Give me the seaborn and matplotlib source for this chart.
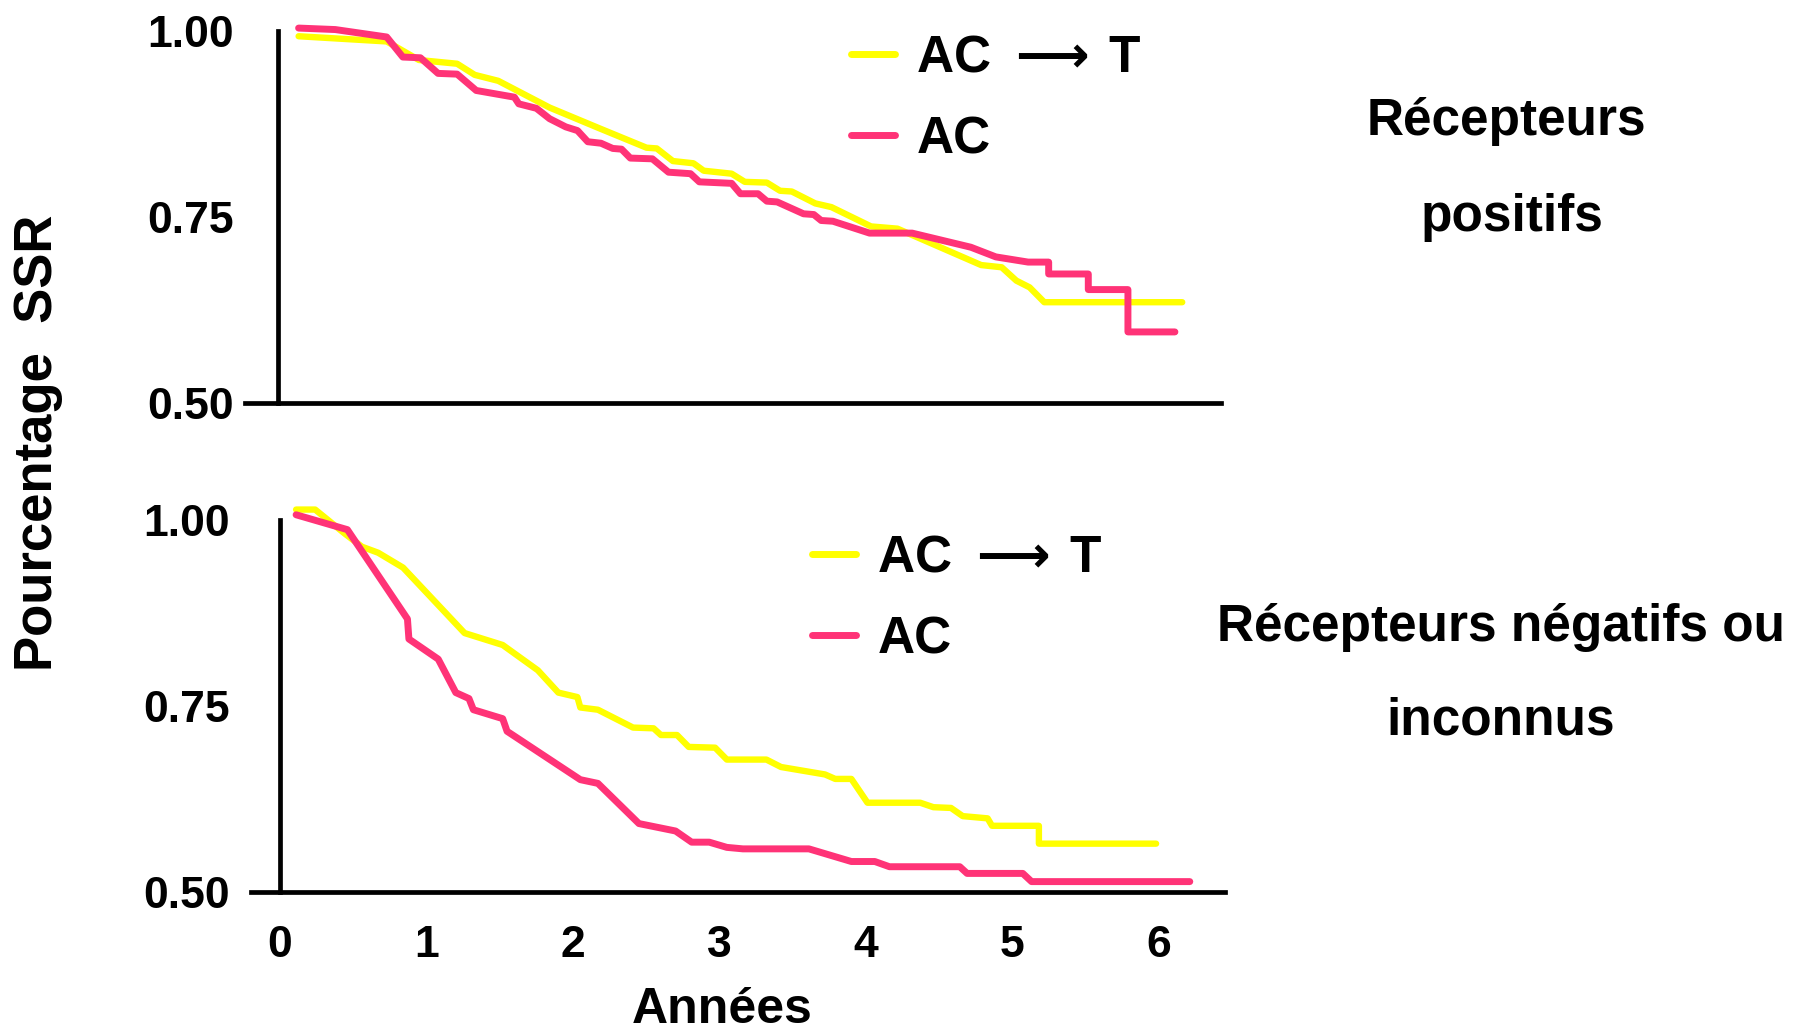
import numpy as np
import pandas as pd
import matplotlib.pyplot as plt
import seaborn as sns

# Récepteurs positifs : courbes
annees_pos_act = [0.14, 0.74, 0.96, 1.22, 1.34, 1.50, 1.85, 2.19, 2.51, 2.58, 2.69, 2.83, 2.90, 3.09,
                  3.18, 3.33, 3.42, 3.50, 3.66, 3.77, 4.04, 4.22, 4.79, 4.93, 5.03, 5.12, 5.22, 6.16]
ssr_pos_act = [0.993, 0.986, 0.961, 0.956, 0.941, 0.933, 0.897, 0.869, 0.843, 0.842, 0.825, 0.822,
               0.812, 0.808, 0.797, 0.796, 0.785, 0.784, 0.768, 0.763, 0.737, 0.734, 0.685, 0.682,
               0.664, 0.655, 0.635, 0.635]
annees_pos_ac = [0.14, 0.39, 0.74, 0.85, 0.97, 1.09, 1.22, 1.35, 1.61, 1.64, 1.76, 1.85, 1.96, 2.04,
                 2.11, 2.20, 2.28, 2.34, 2.40, 2.55, 2.66, 2.81, 2.87, 3.09, 3.15, 3.27, 3.33, 3.40,
                 3.58, 3.65, 3.70, 3.78, 4.03, 4.32, 4.72, 4.89, 5.11, 5.25, 5.25, 5.52, 5.52, 5.79,
                 5.79, 6.11]
ssr_pos_ac = [1.004, 1.002, 0.992, 0.965, 0.964, 0.943, 0.942, 0.920, 0.911, 0.902, 0.896, 0.882,
              0.871, 0.866, 0.851, 0.849, 0.842, 0.841, 0.829, 0.828, 0.810, 0.808, 0.797, 0.795,
              0.781, 0.781, 0.771, 0.770, 0.754, 0.753, 0.745, 0.744, 0.728, 0.728, 0.709, 0.696,
              0.689, 0.689, 0.673, 0.673, 0.652, 0.652, 0.595, 0.595]

# Récepteurs négatifs ou inconnus
annees_neg_act = [0.11, 0.24, 0.44, 0.56, 0.67, 0.84, 1.26, 1.52, 1.76, 1.90, 2.03, 2.05, 2.17, 2.41,
                  2.55, 2.60, 2.71, 2.79, 2.97, 3.05, 3.32, 3.42, 3.72, 3.79, 3.90, 4.01, 4.37, 4.46,
                  4.58, 4.66, 4.83, 4.86, 5.18, 5.18, 5.98]
ssr_neg_act = [1.014, 1.014, 0.982, 0.964, 0.956, 0.936, 0.848, 0.832, 0.798, 0.768, 0.762, 0.748,
               0.745, 0.721, 0.720, 0.711, 0.711, 0.695, 0.694, 0.678, 0.678, 0.668, 0.658, 0.652,
               0.652, 0.620, 0.620, 0.614, 0.613, 0.602, 0.599, 0.589, 0.589, 0.565, 0.565]
annees_neg_ac = [0.11, 0.46, 0.87, 0.88, 1.08, 1.20, 1.29, 1.32, 1.52, 1.55, 2.05, 2.17, 2.45, 2.70,
                 2.81, 2.93, 3.05, 3.16, 3.61, 3.90, 4.06, 4.16, 4.64, 4.69, 5.07, 5.13, 6.21]
ssr_neg_ac = [1.007, 0.987, 0.867, 0.840, 0.813, 0.768, 0.760, 0.745, 0.733, 0.716, 0.651, 0.646,
              0.592, 0.582, 0.567, 0.567, 0.560, 0.558, 0.558, 0.541, 0.541, 0.534, 0.534, 0.525,
              0.525, 0.514, 0.514]

yticks = [0.50, 0.75, 1.00]
ytick_labels = ['0.50', '0.75', '1.00']
xticks = [0, 1, 2, 3, 4, 5, 6]
noms = ['AC $\\longrightarrow\\,$T', 'AC']
couleurs = ['#FFFF00', '#FF3377']

sns.set_theme(style='white')
plt.rcParams['font.family'] = ['Liberation Sans', 'DejaVu Sans']
plt.rcParams['font.weight'] = 'bold'
plt.rcParams['mathtext.fontset'] = 'dejavusans'
plt.rcParams['mathtext.default'] = 'bf'
for cle in ['text.color', 'axes.labelcolor', 'xtick.color', 'ytick.color']:
    plt.rcParams[cle] = 'black'

fig = plt.figure(figsize=(18.03, 10.31), dpi=100)
ax1 = fig.add_axes([0.1359, 0.6096, 0.5413, 0.3747])
ax2 = fig.add_axes([0.1392, 0.1348, 0.5402, 0.3789])


def tracer(ax, x1, y1, x2, y2, xlim, ylim, pad_y):
    df1 = pd.DataFrame({'Années': x1, 'SSR': y1})
    df2 = pd.DataFrame({'Années': x2, 'SSR': y2})
    sns.lineplot(data=df1, x='Années', y='SSR', ax=ax, color=couleurs[0], lw=4.6,
                 sort=False, estimator=None, label=noms[0])
    sns.lineplot(data=df2, x='Années', y='SSR', ax=ax, color=couleurs[1], lw=5,
                 sort=False, estimator=None, label=noms[1])
    ax.set_xlim(*xlim)
    ax.set_ylim(*ylim)
    for s in ['top', 'right']:
        ax.spines[s].set_visible(False)
    ax.spines['left'].set_position(('data', 0))
    ax.spines['left'].set_bounds(0.5, 1.0)
    for s in ['left', 'bottom']:
        ax.spines[s].set_color('black')
        ax.spines[s].set_linewidth(3.4)
    ax.set_yticks(yticks)
    ax.set_yticklabels(ytick_labels, fontsize=32, fontweight='bold')
    ax.tick_params(axis='y', length=0, pad=pad_y)
    ax.set_xlabel('')
    ax.set_ylabel('')


tracer(ax1, annees_pos_act, ssr_pos_act, annees_pos_ac, ssr_pos_ac,
       (-0.225, 6.424), (0.5, 1.02), 32)
ax1.set_xticks([])

tracer(ax2, annees_neg_act, ssr_neg_act, annees_neg_ac, ssr_neg_ac,
       (-0.198, 6.45), (0.5, 1.025), 36)
ax2.set_xticks(xticks)
ax2.set_xticklabels([str(t) for t in xticks], fontsize=32, fontweight='bold')
ax2.tick_params(axis='x', length=0, pad=24)

# légendes
for ax, x0, yc in [(ax1, 851, 99), (ax2, 812, 599)]:
    leg = ax.legend(loc='center left', bbox_to_anchor=(x0 / 1803, 1 - yc / 1031),
                    bbox_transform=fig.transFigure, frameon=False,
                    handlelength=0.85, handletextpad=0.42, borderpad=0, borderaxespad=0,
                    labelspacing=0.64, prop={'weight': 'bold', 'size': 37})
    for ligne in leg.get_lines():
        ligne.set_linewidth(5)

fig.text(38 / 1803, 1 - 443 / 1031, 'Pourcentage  SSR', rotation=90, fontsize=38,
         fontweight='bold', ha='center', va='center')
fig.text(722 / 1803, 1 - 1010 / 1031, 'Années', fontsize=36, fontweight='bold',
         ha='center', va='center')

fig.text(1506 / 1803, 1 - 121 / 1031, 'Récepteurs', fontsize=37, fontweight='bold',
         ha='center', va='center')
fig.text(1512 / 1803, 1 - 218 / 1031, 'positifs', fontsize=37, fontweight='bold',
         ha='center', va='center')
fig.text(1501 / 1803, 1 - 627 / 1031, 'Récepteurs négatifs ou', fontsize=37,
         fontweight='bold', ha='center', va='center')
fig.text(1501 / 1803, 1 - 721 / 1031, 'inconnus', fontsize=37, fontweight='bold',
         ha='center', va='center')

fig.savefig('out.png', dpi=100)
